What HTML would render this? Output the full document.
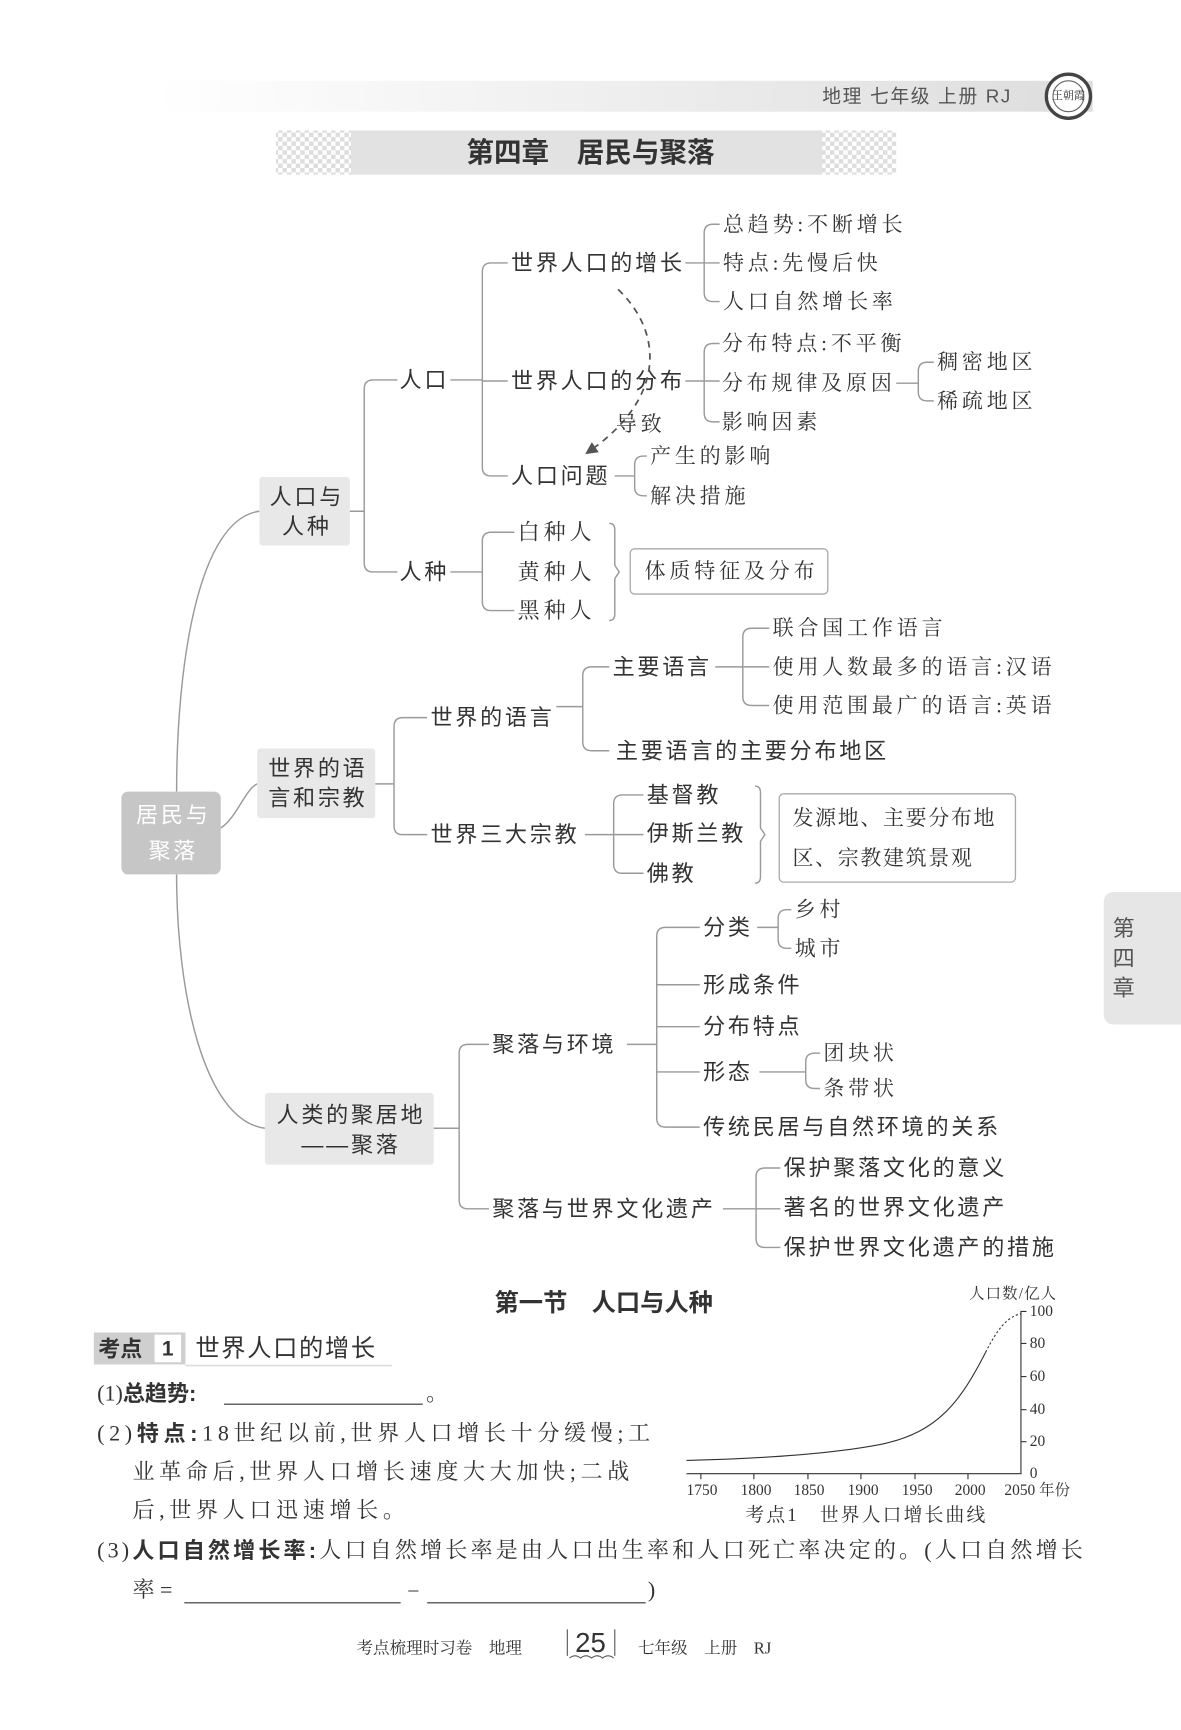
<!DOCTYPE html>
<html><head><meta charset="utf-8"><style>
html,body{margin:0;padding:0;background:#fff;}
svg{display:block;}
.s{font-family:"Liberation Sans","Noto Sans CJK SC",sans-serif;}
.f{font-family:"Liberation Serif","Noto Serif CJK SC","Noto Sans CJK SC",serif;}
.m text.s{letter-spacing:2.5px;}
.m text.f{letter-spacing:3.5px;}
.p{letter-spacing:4.2px;}
.p3{letter-spacing:2.85px;}
text{fill:#333;dominant-baseline:central;}
.ln{fill:none;stroke:#9a9a9a;stroke-width:1.3;}
</style></head><body>
<svg width="1181" height="1730" viewBox="0 0 1070 1567" xmlns="http://www.w3.org/2000/svg">
<defs>
<linearGradient id="hg" x1="0" x2="1"><stop offset="0" stop-color="#fff"/><stop offset="1" stop-color="#ddd"/></linearGradient>
<pattern id="ck" width="8" height="8" patternUnits="userSpaceOnUse"><rect width="8" height="8" fill="#fff"/><rect width="4" height="4" fill="#ddd"/><rect x="4" y="4" width="4" height="4" fill="#ddd"/></pattern>
<marker id="ar" viewBox="0 0 10 10" refX="8" refY="5" markerWidth="7" markerHeight="7" orient="auto"><path d="M0,0 L10,5 L0,10 z" fill="#555"/></marker>
</defs>
<rect x="140" y="73" width="850" height="28" fill="url(#hg)"/>
<text class="s" x="745" y="87" font-size="17" style="fill:#555;letter-spacing:1.5px">地理  七年级  上册  RJ</text>
<circle cx="968" cy="87" r="20" fill="#fff" stroke="#444" stroke-width="3"/>
<circle cx="968" cy="87" r="14" fill="none" stroke="#666" stroke-width="1"/>
<text class="f" x="968" y="87" font-size="10" text-anchor="middle">王朝霞</text>
<rect x="250" y="118" width="562" height="40" fill="url(#ck)"/>
<rect x="318" y="118" width="427" height="40" fill="#e2e2e2"/>
<text class="s" x="535" y="138" font-size="25" font-weight="bold" text-anchor="middle">第四章　居民与聚落</text>

<g class="m">
<path class="ln" d="M160,717 C160,600 180,470 235,463"/>
<path class="ln" d="M200,750 C215,740 222,715 233,710"/>
<path class="ln" d="M160,792 C160,900 185,1015 240,1022"/>
<rect x="110" y="717" width="90" height="75" rx="6" fill="#c6c6c6"/>
<text class="s" x="157" y="738" font-size="20" text-anchor="middle" style="fill:#fff">居民与</text>
<text class="s" x="157" y="771" font-size="20" text-anchor="middle" style="fill:#fff">聚落</text>

<rect x="235" y="432" width="82" height="62" rx="3" fill="#e8e8e8"/>
<text class="s" x="278" y="450" font-size="20" text-anchor="middle">人口与</text>
<text class="s" x="278" y="477" font-size="20" text-anchor="middle">人种</text>
<rect x="233" y="678" width="107" height="63" rx="3" fill="#e8e8e8"/>
<text class="s" x="288" y="696" font-size="20" text-anchor="middle">世界的语</text>
<text class="s" x="288" y="723" font-size="20" text-anchor="middle">言和宗教</text>
<rect x="240" y="990" width="153" height="65" rx="3" fill="#e8e8e8"/>
<text class="s" x="318" y="1010" font-size="20" text-anchor="middle">人类的聚居地</text>
<text class="s" x="318" y="1037" font-size="20" text-anchor="middle">——聚落</text>

<path class="ln" d="M317,463 H330 M360,344 H338 Q330,344 330,352 V510 Q330,518 338,518 H360"/>
<text class="s" x="362" y="344" font-size="20">人口</text>
<text class="s" x="362" y="518" font-size="20">人种</text>
<path class="ln" d="M408,344 H437 M460,238 H445 Q437,238 437,246 V423 Q437,431 445,431 H460 M437,345 H460"/>
<text class="s" x="463" y="238" font-size="20">世界人口的增长</text>
<text class="s" x="463" y="345" font-size="20">世界人口的分布</text>
<text class="s" x="463" y="431" font-size="20">人口问题</text>
<path class="ln" d="M621,238 H652 M652,203 H646 Q638,203 638,211 V265 Q638,273 646,273 H652"/>
<text class="f" x="655" y="203" font-size="19">总趋势:不断增长</text>
<text class="f" x="655" y="238" font-size="19">特点:先慢后快</text>
<text class="f" x="655" y="273" font-size="19">人口自然增长率</text>
<path class="ln" d="M621,345 H652 M652,311 H646 Q638,311 638,319 V374 Q638,382 646,382 H652"/>
<text class="f" x="654" y="311" font-size="19">分布特点:不平衡</text>
<text class="f" x="654" y="347" font-size="19">分布规律及原因</text>
<text class="f" x="654" y="382" font-size="19">影响因素</text>
<path class="ln" d="M812,347 H832 M846,328 H840 Q832,328 832,336 V355 Q832,363 840,363 H846"/>
<text class="f" x="849" y="328" font-size="19">稠密地区</text>
<text class="f" x="849" y="363" font-size="19">稀疏地区</text>
<path class="ln" d="M557,431 H575 M586,413 H583 Q575,413 575,421 V441 Q575,449 583,449 H586"/>
<text class="f" x="589" y="413" font-size="19">产生的影响</text>
<text class="f" x="589" y="449" font-size="19">解决措施</text>
<path d="M560,262 C600,300 605,360 532,410" fill="none" stroke="#555" stroke-width="1.6" stroke-dasharray="6,5" marker-end="url(#ar)"/>
<text class="f" x="558" y="384" font-size="19">导致</text>
<path class="ln" d="M408,518 H437 M466,482 H445 Q437,482 437,490 V545 Q437,553 445,553 H466"/>
<text class="f" x="469" y="482" font-size="20">白种人</text>
<text class="f" x="469" y="518" font-size="20">黄种人</text>
<text class="f" x="469" y="553" font-size="20">黑种人</text>
<path class="ln" d="M552,474 Q557,474 557,480 V512 L561,518 L557,524 V556 Q557,562 552,562"/>
<rect x="571" y="497" width="179" height="41" rx="4" fill="#fff" stroke="#aaa" stroke-width="1.2"/>
<text class="f" x="584" y="517" font-size="19">体质特征及分布</text>

<path class="ln" d="M340,710 H357 M387,650 H365 Q357,650 357,658 V748 Q357,756 365,756 H387"/>
<text class="s" x="390" y="650" font-size="20">世界的语言</text>
<text class="s" x="390" y="756" font-size="20">世界三大宗教</text>
<path class="ln" d="M504,640 H528 M552,604 H536 Q528,604 528,612 V672 Q528,680 536,680 H552"/>
<text class="s" x="555" y="604" font-size="20">主要语言</text>
<text class="s" x="558" y="680" font-size="20">主要语言的主要分布地区</text>
<path class="ln" d="M648,604 H697 M697,569 H681 Q673,569 673,577 V631 Q673,639 681,639 H697"/>
<text class="f" x="700" y="569" font-size="19">联合国工作语言</text>
<text class="f" x="700" y="604" font-size="19">使用人数最多的语言:汉语</text>
<text class="f" x="700" y="639" font-size="19">使用范围最广的语言:英语</text>
<path class="ln" d="M530,756 H583 M583,720 H564 Q556,720 556,728 V783 Q556,791 564,791 H583"/>
<text class="s" x="586" y="720" font-size="20">基督教</text>
<text class="s" x="586" y="755" font-size="20">伊斯兰教</text>
<text class="s" x="586" y="791" font-size="20">佛教</text>
<path class="ln" d="M684,712 Q689,712 689,718 V750 L693,756 L689,762 V794 Q689,800 684,800"/>
<rect x="706" y="719" width="214" height="80" rx="4" fill="#fff" stroke="#aaa" stroke-width="1.2"/>
<text class="f" x="718" y="741" font-size="19" style="letter-spacing:1.5px">发源地、主要分布地</text>
<text class="f" x="718" y="777" font-size="19" style="letter-spacing:1.5px">区、宗教建筑景观</text>

<path class="ln" d="M393,1022 H416 M443,946 H424 Q416,946 416,954 V1087 Q416,1095 424,1095 H443"/>
<text class="s" x="446" y="946" font-size="20">聚落与环境</text>
<text class="s" x="446" y="1095" font-size="20">聚落与世界文化遗产</text>
<path class="ln" d="M568,946 H595 M634,840 H603 Q595,840 595,848 V1013 Q595,1021 603,1021 H634 M595,892 H634 M595,930 H634 M595,971 H634"/>
<text class="s" x="637" y="840" font-size="20">分类</text>
<text class="s" x="637" y="892" font-size="20">形成条件</text>
<text class="s" x="637" y="930" font-size="20">分布特点</text>
<text class="s" x="637" y="971" font-size="20">形态</text>
<text class="s" x="637" y="1021" font-size="20">传统民居与自然环境的关系</text>
<path class="ln" d="M686,840 H705 M717,824 H713 Q705,824 705,832 V851 Q705,859 713,859 H717"/>
<text class="f" x="720" y="824" font-size="19">乡村</text>
<text class="f" x="720" y="859" font-size="19">城市</text>
<path class="ln" d="M688,971 H730 M743,954 H738 Q730,954 730,962 V978 Q730,986 738,986 H743"/>
<text class="f" x="746" y="954" font-size="19">团块状</text>
<text class="f" x="746" y="986" font-size="19">条带状</text>
<path class="ln" d="M655,1095 H707 M707,1058 H693 Q685,1058 685,1066 V1122 Q685,1130 693,1130 H707"/>
<text class="s" x="710" y="1058" font-size="20">保护聚落文化的意义</text>
<text class="s" x="710" y="1094" font-size="20">著名的世界文化遗产</text>
<text class="s" x="710" y="1130" font-size="20">保护世界文化遗产的措施</text>
</g>

<path d="M1070,808 H1010 Q1000,808 1000,818 V918 Q1000,928 1010,928 H1070 Z" fill="#e6e6e6"/>
<text class="s" x="1018" y="841" font-size="20" text-anchor="middle" style="fill:#555">第</text>
<text class="s" x="1018" y="868" font-size="20" text-anchor="middle" style="fill:#555">四</text>
<text class="s" x="1018" y="895" font-size="20" text-anchor="middle" style="fill:#555">章</text>

<text class="s" x="547" y="1181" font-size="22" font-weight="bold" text-anchor="middle">第一节　人口与人种</text>
<rect x="85" y="1207" width="83" height="29" fill="#cfcfcf"/>
<rect x="140" y="1209" width="24" height="25" fill="#fff"/>
<text class="s" x="89" y="1222" font-size="20" font-weight="bold">考点</text>
<text class="s" x="152" y="1222" font-size="19" font-weight="bold" text-anchor="middle">1</text>
<text class="s" x="177" y="1222" font-size="22" style="letter-spacing:1.5px">世界人口的增长</text>
<line x1="168" y1="1237" x2="355" y2="1237" stroke="#ddd" stroke-width="1.5"/>
<text class="f" x="88" y="1262" font-size="20">(1)<tspan class="s" font-weight="bold">总趋势:</tspan></text>
<line x1="203" y1="1272" x2="383" y2="1272" stroke="#333" stroke-width="1"/>
<text class="f" x="386" y="1262" font-size="20">。</text>
<text class="f p" x="88" y="1298" font-size="20">(2)<tspan class="s" font-weight="bold">特点:</tspan>18世纪以前,世界人口增长十分缓慢;工</text>
<text class="f p" x="120" y="1333" font-size="20">业革命后,世界人口增长速度大大加快;二战</text>
<text class="f p" x="120" y="1368" font-size="20">后,世界人口迅速增长。</text>
<text class="f p3" x="88" y="1404" font-size="20">(3)<tspan class="s" font-weight="bold">人口自然增长率:</tspan>人口自然增长率是由人口出生率和人口死亡率决定的。(人口自然增长</text>
<text class="f" x="120" y="1440" font-size="20">率 =</text>
<line x1="167" y1="1452" x2="363" y2="1452" stroke="#333" stroke-width="1"/>
<text class="f" x="370" y="1440" font-size="18">–</text>
<line x1="387" y1="1452" x2="585" y2="1452" stroke="#333" stroke-width="1"/>
<text class="f" x="587" y="1440" font-size="20">)</text>

<text class="f" x="878" y="1172" font-size="14" style="letter-spacing:1px">人口数/亿人</text>
<path d="M930,1188 H925 V1335 H622" fill="none" stroke="#333" stroke-width="1"/>
<g stroke="#333" stroke-width="1">
<line x1="925" y1="1217" x2="930" y2="1217"/><line x1="925" y1="1247" x2="930" y2="1247"/>
<line x1="925" y1="1277" x2="930" y2="1277"/><line x1="925" y1="1306" x2="930" y2="1306"/>
<line x1="635" y1="1335" x2="635" y2="1340"/><line x1="683" y1="1335" x2="683" y2="1340"/>
<line x1="732" y1="1335" x2="732" y2="1340"/><line x1="780" y1="1335" x2="780" y2="1340"/>
<line x1="829" y1="1335" x2="829" y2="1340"/><line x1="877" y1="1335" x2="877" y2="1340"/>
</g>
<g class="f" font-size="14">
<text x="933" y="1188">100</text><text x="933" y="1217">80</text><text x="933" y="1247">60</text>
<text x="933" y="1277">40</text><text x="933" y="1306">20</text><text x="933" y="1335">0</text>
<text x="636" y="1350" text-anchor="middle">1750</text><text x="685" y="1350" text-anchor="middle">1800</text>
<text x="733" y="1350" text-anchor="middle">1850</text><text x="782" y="1350" text-anchor="middle">1900</text>
<text x="831" y="1350" text-anchor="middle">1950</text><text x="879" y="1350" text-anchor="middle">2000</text>
<text x="910" y="1350">2050 年份</text>
</g>
<path d="M622,1323 C700,1321 760,1316 800,1308 C850,1297 870,1270 893,1225" fill="none" stroke="#333" stroke-width="1"/>
<path d="M893,1225 C903,1205 912,1193 925,1190" fill="none" stroke="#333" stroke-width="1" stroke-dasharray="2,2"/>
<text class="f" x="785" y="1373" font-size="17" text-anchor="middle" style="letter-spacing:2px">考点1　世界人口增长曲线</text>

<text class="f" x="323" y="1493" font-size="15">考点梳理时习卷　地理</text>
<text class="s" x="535" y="1488" font-size="25" text-anchor="middle">25</text>
<path d="M514,1476 V1500 M557,1476 V1500 M516,1502 q5,-4 10,0 q5,-4 10,0 q5,-4 10,0 q5,-4 10,0" fill="none" stroke="#555" stroke-width="1"/>
<text class="f" x="578" y="1493" font-size="15">七年级　上册　RJ</text>
</svg>
</body></html>
